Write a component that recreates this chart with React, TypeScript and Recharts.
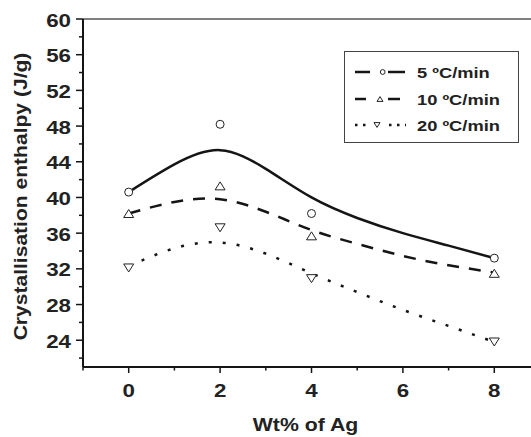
import {
  ComposedChart,
  Legend,
  Line,
  ReferenceLine,
  Scatter,
  XAxis,
  YAxis,
} from 'recharts';

// smooth fit curves at whole wt% steps
const fitX = [0, 1, 2, 3, 4, 5, 6, 7, 8];
const fit5 = [40.6, 43.7, 45.3, 43.2, 40.0, 37.7, 36.0, 34.6, 33.2];
const fit10 = [38.2, 39.5, 39.8, 38.4, 36.35, 34.8, 33.45, 32.4, 31.6];
const fit20 = [32.3, 34.3, 34.95, 33.7, 31.5, 29.4, 27.4, 25.6, 23.8];

// measured points
const agWt = [0, 2, 4, 8];
const meas5 = [40.6, 48.2, 38.2, 33.2];
const meas10 = [38.2, 41.3, 35.7, 31.5];
const meas20 = [32.1, 36.6, 30.9, 23.8];

const xTicks = [-1, 0, 1, 2, 3, 4, 5, 6, 7, 8, 9];
const yTicks = [22, 24, 26, 28, 30, 32, 34, 36, 38, 40, 42, 44, 46, 48, 50, 52, 54, 56, 58, 60];

const rateLabels = ['5 ºC/min', '10 ºC/min', '20 ºC/min'];

const fitRows = fitX.map((x, i) => ({ x, f5: fit5[i], f10: fit10[i], f20: fit20[i] }));
const toPoints = (ys: number[]) => agWt.map((x, i) => ({ x, y: ys[i] }));

const FONT = '"Liberation Sans", Arial, Helvetica, sans-serif';
const INK = '#151515';

type MarkerKind = 'circle' | 'up' | 'down';

function Marker({ kind, cx, cy, s = 1 }: { kind: MarkerKind; cx: number; cy: number; s?: number }) {
  if (kind === 'circle') {
    return <circle cx={cx} cy={cy} r={4 * s} fill="#fff" stroke="#222" strokeWidth={1} />;
  }
  const w = 5 * s;
  const h = 4 * s;
  const d =
    kind === 'up'
      ? `M${cx - w},${cy + h} L${cx + w},${cy + h} L${cx},${cy - h} Z`
      : `M${cx - w},${cy - h} L${cx + w},${cy - h} L${cx},${cy + h} Z`;
  return <path d={d} fill="#fff" stroke="#222" strokeWidth={1} />;
}

const series = [
  { key: 'f5', pts: toPoints(meas5), marker: 'circle' as MarkerKind, dash: undefined, label: rateLabels[0] },
  { key: 'f10', pts: toPoints(meas10), marker: 'up' as MarkerKind, dash: '12 10', label: rateLabels[1] },
  { key: 'f20', pts: toPoints(meas20), marker: 'down' as MarkerKind, dash: '3 11', label: rateLabels[2] },
];

// legend symbol layout per row
const legendSym = [
  { left: [11, 26], right: [44, 61], mx: 38.7, dash: undefined },
  { left: [11, 22], right: [44, 56], mx: 36, dash: undefined },
  { left: [11, 23], right: [45, 62], mx: 33, dash: '2.5 5.5' },
];
const legendRowY = [21, 48, 74];

function XTick(props: any) {
  const { x, y, payload } = props;
  const v = payload.value;
  const major = v % 2 === 0;
  return (
    <g>
      <line x1={x} x2={x} y1={y} y2={y + (major ? 6 : 3.5)} stroke={INK} strokeWidth={1.5} />
      {major && (
        <text
          transform={`translate(${x},${y + 30}) scale(1.24,1)`}
          textAnchor="middle"
          fontFamily={FONT}
          fontSize={18}
          fontWeight="bold"
          fill="#222"
        >
          {v}
        </text>
      )}
    </g>
  );
}

function YTick(props: any) {
  const { x, y, payload } = props;
  const v = payload.value;
  const major = v % 4 === 0;
  return (
    <g>
      <line x1={x - (major ? 7 : 4)} x2={x} y1={y} y2={y} stroke={INK} strokeWidth={1.5} />
      {major && (
        <text
          transform={`translate(${x - 12},${y + 7.5}) scale(1.24,1)`}
          textAnchor="end"
          fontFamily={FONT}
          fontSize={18}
          fontWeight="bold"
          fill="#222"
        >
          {v}
        </text>
      )}
    </g>
  );
}

const renderYLabel = (p: any) => {
  const vb = p.viewBox ?? { x: 0, y: 19, width: 83, height: 348 };
  const cx = vb.x + 27;
  const cy = vb.y + vb.height / 2 + 3.5;
  return (
    <text
      transform={`translate(${cx},${cy}) rotate(-90) scale(1.17,1)`}
      textAnchor="middle"
      fontFamily={FONT}
      fontSize={18}
      fontWeight="bold"
      fill="#222"
    >
      Crystallisation enthalpy (J/g)
    </text>
  );
};

const renderXLabel = (p: any) => {
  const vb = p.viewBox ?? { x: 83, y: 367, width: 457, height: 50 };
  const cx = vb.x + vb.width / 2 - 6;
  return (
    <text
      transform={`translate(${cx},${vb.y + 64}) scale(1.15,1)`}
      textAnchor="middle"
      fontFamily={FONT}
      fontSize={18.5}
      fontWeight="bold"
      fill="#222"
    >
      Wt% of Ag
    </text>
  );
};

const renderLegend = () => (
  <svg width={175} height={92} style={{ display: 'block' }}>
    <rect x={0.5} y={0.5} width={174} height={91} fill="#fff" stroke="#444" strokeWidth={1} />
    {series.map((s, i) => {
      const g = legendSym[i];
      const y = legendRowY[i];
      return (
        <g key={s.key}>
          <line x1={g.left[0]} x2={g.left[1]} y1={y} y2={y} stroke={INK} strokeWidth={2.5} strokeDasharray={g.dash} />
          <line x1={g.right[0]} x2={g.right[1]} y1={y} y2={y} stroke={INK} strokeWidth={2.5} strokeDasharray={g.dash} />
          <Marker kind={s.marker} cx={g.mx} cy={y} s={0.6} />
          <text
            transform={`translate(73,${y + 5.5}) scale(1.22,1)`}
            fontFamily={FONT}
            fontSize={15}
            fontWeight="bold"
            fill="#222"
          >
            {s.label}
          </text>
        </g>
      );
    })}
  </svg>
);

export default function App() {
  return (
    <div
      style={{
        position: 'absolute',
        left: 0,
        top: 0,
        width: 531,
        height: 437,
        overflow: 'hidden',
        background: '#fff',
      }}
    >
      <ComposedChart
        width={560}
        height={437}
        data={fitRows}
        margin={{ top: 19, right: 20, bottom: 20, left: 0 }}
      >
        <XAxis
          dataKey="x"
          type="number"
          domain={[-1, 9]}
          ticks={xTicks}
          interval={0}
          tickSize={0}
          tickMargin={0}
          tickLine={false}
          tick={<XTick />}
          axisLine={{ stroke: INK, strokeWidth: 2 }}
          height={50}
          label={{ content: renderXLabel }}
        />
        <YAxis
          type="number"
          domain={[21, 60]}
          ticks={yTicks}
          interval={0}
          tickSize={0}
          tickMargin={0}
          tickLine={false}
          tick={<YTick />}
          axisLine={{ stroke: INK, strokeWidth: 2 }}
          width={83}
          label={{ content: renderYLabel }}
        />
        <ReferenceLine y={60} stroke="#555" strokeWidth={1.5} />
        {series.map((s) => (
          <Line
            key={s.key}
            dataKey={s.key}
            type="natural"
            stroke={INK}
            strokeWidth={2.5}
            strokeDasharray={s.dash}
            dot={false}
            activeDot={false}
            legendType="none"
            isAnimationActive={false}
          />
        ))}
        {series.map((s) => (
          <Scatter
            key={`p-${s.key}`}
            data={s.pts}
            dataKey="y"
            legendType="none"
            isAnimationActive={false}
            shape={(p: any) => <Marker kind={s.marker} cx={p.cx} cy={p.cy} />}
          />
        ))}
        <Legend
          layout="horizontal"
          verticalAlign="middle"
          align="center"
          wrapperStyle={{ left: 344, top: 51, width: 175, height: 92 }}
          content={renderLegend}
        />
      </ComposedChart>
    </div>
  );
}
